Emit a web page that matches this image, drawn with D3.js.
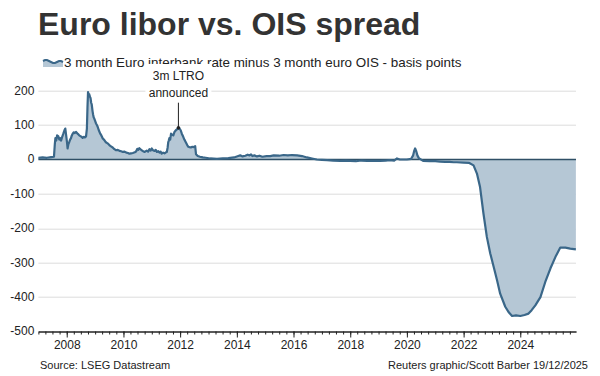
<!DOCTYPE html>
<html>
<head>
<meta charset="utf-8">
<script src="https://cdn.jsdelivr.net/npm/d3@7"></script>
<style>
  body { margin: 0; background: #fff; }
  text { font-family: "Liberation Sans", Arial, sans-serif; }
</style>
</head>
<body>
<div id="chart"></div>
<script>
// spread, basis points (decimal year -> value)
const years = [
  2007.00, 2007.15, 2007.30, 2007.45, 2007.55, 2007.58, 2007.60, 2007.63, 2007.66, 2007.70,
  2007.74, 2007.77, 2007.80, 2007.84, 2007.88, 2007.92, 2007.95, 2007.98, 2008.01, 2008.03,
  2008.06, 2008.09, 2008.12, 2008.15, 2008.18, 2008.21, 2008.25, 2008.28, 2008.33, 2008.37,
  2008.40, 2008.44, 2008.48, 2008.52, 2008.56, 2008.60, 2008.64, 2008.68, 2008.71, 2008.73,
  2008.75, 2008.77, 2008.79, 2008.82, 2008.84, 2008.86, 2008.88, 2008.91, 2008.93, 2008.95,
  2008.97, 2009.00, 2009.03, 2009.06, 2009.09, 2009.13, 2009.18, 2009.22, 2009.27, 2009.32,
  2009.38, 2009.44, 2009.50, 2009.56, 2009.62, 2009.68, 2009.74, 2009.80, 2009.86, 2009.92,
  2009.98, 2010.04, 2010.10, 2010.16, 2010.21, 2010.27, 2010.33, 2010.40, 2010.45, 2010.49,
  2010.52, 2010.56, 2010.59, 2010.64, 2010.68, 2010.75, 2010.82, 2010.87, 2010.92, 2010.96,
  2011.00, 2011.04, 2011.10, 2011.14, 2011.18, 2011.23, 2011.27, 2011.31, 2011.35, 2011.40,
  2011.45, 2011.50, 2011.53, 2011.56, 2011.58, 2011.60, 2011.62, 2011.65, 2011.68, 2011.72,
  2011.76, 2011.80, 2011.85, 2011.90, 2011.94, 2011.98, 2012.02, 2012.06, 2012.11, 2012.15,
  2012.20, 2012.25, 2012.29, 2012.33, 2012.38, 2012.43, 2012.47, 2012.53, 2012.56, 2012.62,
  2012.70, 2012.80, 2012.90, 2013.06, 2013.30, 2013.50, 2013.70, 2013.90, 2014.05, 2014.12,
  2014.20, 2014.30, 2014.38, 2014.45, 2014.50, 2014.55, 2014.62, 2014.71, 2014.80, 2014.90,
  2015.05, 2015.18, 2015.30, 2015.50, 2015.65, 2015.80, 2015.95, 2016.13, 2016.30, 2016.47,
  2016.65, 2016.82, 2017.00, 2017.18, 2017.40, 2017.65, 2017.85, 2018.00, 2018.20, 2018.40,
  2018.60, 2018.80, 2019.06, 2019.25, 2019.40, 2019.55, 2019.65, 2019.75, 2019.85, 2020.00,
  2020.15, 2020.22, 2020.26, 2020.29, 2020.33, 2020.37, 2020.42, 2020.57, 2020.80, 2021.00,
  2021.17, 2021.35, 2021.50, 2021.65, 2021.76, 2022.00, 2022.20, 2022.35, 2022.47, 2022.58,
  2022.70, 2022.82, 2022.94, 2023.06, 2023.18, 2023.29, 2023.47, 2023.60, 2023.71, 2023.85,
  2024.00, 2024.15, 2024.29, 2024.40, 2024.53, 2024.71, 2024.88, 2025.06, 2025.24, 2025.41,
  2025.59, 2025.76, 2025.96
]
const spread = [
  5, 6, 5, 7, 8, 45, 62, 55, 70, 68,
  58, 62, 55, 66, 75, 85, 90, 70, 50, 32,
  45, 51, 58, 62, 70, 75, 79, 77, 80, 76,
  74, 70, 68, 66, 63, 66, 64, 67, 90, 150,
  196, 188, 190, 182, 178, 165, 160, 140, 130, 122,
  119, 112, 105, 100, 95, 85, 75, 70, 61, 57,
  50, 47, 42, 38, 35, 30, 27, 28, 25, 24,
  22, 23, 20, 19, 17, 18, 19, 21, 24, 31,
  28, 33, 30, 27, 25, 22, 26, 23, 30, 26,
  32, 27, 25, 28, 22, 24, 20, 23, 17, 20,
  18, 21, 22, 35, 50, 55, 62, 58, 75, 72,
  70, 80, 85, 88, 92, 90, 85, 75, 66, 58,
  50, 42, 37, 36, 35, 37, 36, 39, 15, 10,
  8, 6, 5, 3, 2, 3, 4, 6, 10, 12,
  9, 11, 14, 12, 15, 10, 12, 9, 11, 8,
  10, 10, 12, 11, 13, 12, 13, 12, 10, 6,
  3, 0, -1, -2, -3, -4, -3, -4, -5, -3,
  -4, -4, -4, -3, -2, -3, 3, 0, 0, 0,
  2, 12, 26, 32, 24, 12, 4, -4, -5, -5,
  -6, -7, -7, -8, -8, -9, -10, -17, -41, -80,
  -157, -225, -273, -312, -351, -390, -428, -445, -455, -453,
  -455, -452, -448, -438, -424, -400, -356, -317, -283, -256,
  -256, -259, -261
]
const yTicks = [200, 100, 0, -100, -200, -300, -400, -500]
const title = "Euro libor vs. OIS spread"
const legendLabel = "3 month Euro interbank rate minus 3 month euro OIS - basis points"
const noteLines = ["3m LTRO", "announced"]
const noteYear = 2011.94
const noteValue = 92
const source = "Source: LSEG Datastream"
const credit = "Reuters graphic/Scott Barber 19/12/2025"

function drawChart() {
  const toDate = y => {
    const yr = Math.floor(y)
    const start = new Date(yr, 0, 1), end = new Date(yr + 1, 0, 1)
    return new Date(+start + (y - yr) * (end - start))
  }
  const data = years.map((y, i) => ({ date: toDate(y), value: spread[i] }))

  const dimensions = {
    width: 600,
    height: 376,
    margin: { top: 90.7, right: 24, bottom: 44.5, left: 38.4 },
  }
  dimensions.boundedWidth = dimensions.width - dimensions.margin.left - dimensions.margin.right
  dimensions.boundedHeight = dimensions.height - dimensions.margin.top - dimensions.margin.bottom

  const fillColour = "#b5c7d5"
  const lineColour = "#3a6789"

  const wrapper = d3.select("#chart").append("svg")
    .attr("width", dimensions.width)
    .attr("height", dimensions.height)

  wrapper.append("text")
    .attr("x", 38).attr("y", 35)
    .attr("font-size", 32).attr("font-weight", "bold")
    .attr("fill", "#333")
    .text(title)

  // legend glyph
  const glyph = [0, 2, 4, 6, 8, 10, 12, 14, 16, 18, 20]
  const glyphY = [3, 2, 2, 3, 4, 5, 5, 4, 3, 3, 4]
  const legend = wrapper.append("g").attr("transform", "translate(43, 58)")
  legend.append("path")
    .datum(glyph)
    .attr("d", d3.area().x(d => d).y0(9).y1((d, i) => glyphY[i]))
    .attr("fill", fillColour)
  legend.append("path")
    .datum(glyph)
    .attr("d", d3.line().x(d => d).y((d, i) => glyphY[i]))
    .attr("fill", "none").attr("stroke", lineColour).attr("stroke-width", 2)
  legend.append("text")
    .attr("x", 21).attr("y", 8.5)
    .attr("font-size", 13.4).attr("fill", "#222")
    .text(legendLabel)

  const bounds = wrapper.append("g")
    .attr("transform", `translate(${dimensions.margin.left}, ${dimensions.margin.top})`)

  const xScale = d3.scaleTime()
    .domain([new Date(2007, 0, 1), new Date(2025, 11, 19)])
    .range([0, dimensions.boundedWidth])

  const yScale = d3.scaleLinear()
    .domain([-500, 200])
    .range([dimensions.boundedHeight, 0])

  // gridlines
  bounds.append("g").selectAll("line")
    .data(yTicks.filter(d => d !== 0 && d !== -500))
    .join("line")
      .attr("x1", 0).attr("x2", dimensions.boundedWidth)
      .attr("y1", d => Math.round(yScale(d)) + 0.5)
      .attr("y2", d => Math.round(yScale(d)) + 0.5)
      .attr("stroke", "#dcdcdc")

  // y labels
  bounds.append("g").selectAll("text")
    .data(yTicks)
    .join("text")
      .attr("x", -4)
      .attr("y", d => yScale(d) + 4)
      .attr("text-anchor", "end")
      .attr("font-size", 12).attr("fill", "#222")
      .text(d => d)

  // area + line
  const area = d3.area()
    .x(d => xScale(d.date))
    .y0(yScale(0))
    .y1(d => yScale(d.value))
  bounds.append("path")
    .datum(data)
    .attr("d", area)
    .attr("fill", fillColour)

  bounds.append("line")
    .attr("x1", 0).attr("x2", dimensions.boundedWidth)
    .attr("y1", yScale(0)).attr("y2", yScale(0))
    .attr("stroke", "#2f4f66").attr("stroke-width", 1.5)

  const line = d3.line()
    .x(d => xScale(d.date))
    .y(d => yScale(d.value))
  bounds.append("path")
    .datum(data)
    .attr("d", line)
    .attr("fill", "none")
    .attr("stroke", lineColour)
    .attr("stroke-width", 2.2)
    .attr("stroke-linejoin", "round")

  // x axis: quarterly minor ticks, labelled every 2 years
  const xAxisGroup = bounds.append("g")
    .attr("transform", `translate(0, ${dimensions.boundedHeight})`)

  const minorAxis = d3.axisBottom(xScale)
    .ticks(d3.timeMonth.every(3))
    .tickFormat("")
    .tickSizeInner(3)
    .tickSizeOuter(0)
  xAxisGroup.append("g").call(minorAxis)

  const majorAxis = d3.axisBottom(xScale)
    .ticks(d3.timeYear.every(2))
    .tickFormat(d3.timeFormat("%Y"))
    .tickSizeInner(6)
    .tickSizeOuter(0)
    .tickPadding(3)
  xAxisGroup.append("g").call(majorAxis)

  xAxisGroup.selectAll("path.domain").attr("stroke", "#222")
  xAxisGroup.selectAll("line").attr("stroke", "#222")
  xAxisGroup.selectAll("text")
    .attr("font-size", 12)
    .attr("fill", "#222")
    .style("font-family", "'Liberation Sans', Arial, sans-serif")

  // annotation: white label box sits over the legend and the 200 gridline
  const nx = xScale(toDate(noteYear))
  const ny = yScale(noteValue)
  wrapper.append("rect")
    .attr("x", dimensions.margin.left + nx - 33).attr("y", 64)
    .attr("width", 66).attr("height", 36)
    .attr("fill", "#fff")
  bounds.append("line")
    .attr("x1", nx).attr("x2", nx)
    .attr("y1", 12).attr("y2", ny)
    .attr("stroke", "#222")
  bounds.append("circle")
    .attr("cx", nx).attr("cy", ny).attr("r", 1.8)
    .attr("fill", "#222")
  wrapper.append("g").selectAll("text")
    .data(noteLines)
    .join("text")
      .attr("x", dimensions.margin.left + nx)
      .attr("y", (d, i) => 79.5 + i * 17.5)
      .attr("text-anchor", "middle")
      .attr("font-size", 12).attr("fill", "#222")
      .text(d => d)

  // footer
  wrapper.append("text")
    .attr("x", 40).attr("y", 369)
    .attr("font-size", 11).attr("fill", "#222")
    .text(source)
  wrapper.append("text")
    .attr("x", 588).attr("y", 369)
    .attr("text-anchor", "end")
    .attr("font-size", 11).attr("fill", "#222")
    .text(credit)
}
drawChart()
</script>
</body>
</html>
